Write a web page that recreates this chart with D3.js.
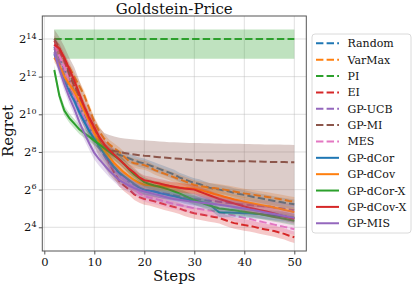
<!DOCTYPE html>
<html>
<head>
<meta charset="utf-8">
<script src="https://cdnjs.cloudflare.com/ajax/libs/d3/7.8.5/d3.min.js"></script>
<style>
  body { margin: 0; background: #fff; }
  svg { display: block; font-family: "DejaVu Serif", serif; }
</style>
</head>
<body>
<svg id="chart" width="416" height="286"></svg>
<script>
// all values are log2(regret), steps 2..50
var steps = d3.range(2, 51);

var random = [13.6,13.0,12.4,11.8,11.2,10.5,9.9,9.3,8.8,8.5,8.3,8.1,7.95,7.85,7.75,7.65,7.55,7.45,7.4,7.3,7.2,7.1,7.0,6.9,6.8,6.65,6.55,6.45,6.35,6.3,6.2,6.1,6.05,6.0,5.95,5.9,5.82,5.77,5.72,5.66,5.6,5.55,5.5,5.45,5.4,5.35,5.3,5.26,5.22];
var varmax = [13.3,13.2,12.9,12.5,12.0,11.5,11.0,10.3,9.6,9.1,8.7,8.4,8.2,8.0,7.75,7.5,7.4,7.35,7.3,7.2,7.05,6.95,6.85,6.75,6.65,6.55,6.45,6.35,6.25,6.2,6.15,6.1,6.08,6.05,6.0,5.95,5.9,5.85,5.8,5.76,5.72,5.68,5.64,5.6,5.55,5.5,5.45,5.4,5.36];
var pi = [14,14,14,14,14,14,14,14,14,14,14,14,14,14,14,14,14,14,14,14,14,14,14,14,14,14,14,14,14,14,14,14,14,14,14,14,14,14,14,14,14,14,14,14,14,14,14,14,14];
var piUpper = [14.5,14.5,14.5,14.5,14.5,14.5,14.5,14.5,14.5,14.5,14.5,14.5,14.5,14.5,14.5,14.5,14.5,14.5,14.5,14.5,14.5,14.5,14.5,14.5,14.5,14.5,14.5,14.5,14.5,14.5,14.5,14.5,14.5,14.5,14.5,14.5,14.5,14.5,14.5,14.5,14.5,14.5,14.5,14.5,14.5,14.5,14.5,14.5,14.5];
var piLower = [12.95,12.95,12.95,12.95,12.95,12.95,12.95,12.95,12.95,12.95,12.95,12.95,12.95,12.95,12.95,12.95,12.95,12.95,12.95,12.95,12.95,12.95,12.95,12.95,12.95,12.95,12.95,12.95,12.95,12.95,12.95,12.95,12.95,12.95,12.95,12.95,12.95,12.95,12.95,12.95,12.95,12.95,12.95,12.95,12.95,12.95,12.95,12.95,12.95];
var ei = [13.9,13.4,12.8,12.1,11.5,10.9,10.4,9.8,9.3,8.6,8.0,7.4,6.9,6.45,6.2,6.0,5.75,5.6,5.5,5.45,5.38,5.3,5.22,5.15,5.08,5.0,4.9,4.82,4.75,4.7,4.65,4.6,4.55,4.5,4.4,4.3,4.22,4.17,4.12,4.08,4.02,3.95,3.9,3.85,3.8,3.72,3.65,3.55,3.47];
var gpucb = [13.5,12.8,12.1,11.4,10.8,10.2,9.6,9.1,8.6,8.2,7.8,7.4,7.1,6.85,6.6,6.4,6.25,6.1,6.0,5.95,5.9,5.85,5.8,5.75,5.7,5.65,5.6,5.55,5.5,5.47,5.44,5.41,5.38,5.35,5.32,5.29,5.26,5.23,5.2,5.18,5.16,5.14,5.12,5.1,5.06,5.02,4.98,4.94,4.9];
var gpmi = [14.0,13.5,12.9,12.2,11.6,10.9,10.3,9.7,9.2,8.7,8.3,8.1,8.05,8.0,7.95,7.9,7.87,7.83,7.8,7.78,7.75,7.72,7.7,7.68,7.66,7.64,7.61,7.59,7.57,7.56,7.55,7.54,7.53,7.52,7.52,7.51,7.51,7.5,7.5,7.5,7.49,7.49,7.48,7.47,7.47,7.46,7.46,7.45,7.45];
var gpmiUpper = [14.5,14.1,13.6,13.0,12.5,11.8,11.1,10.4,9.8,9.3,9.0,8.9,8.82,8.76,8.72,8.69,8.66,8.64,8.62,8.6,8.58,8.56,8.54,8.52,8.51,8.5,8.49,8.48,8.47,8.47,8.46,8.46,8.45,8.45,8.44,8.44,8.43,8.43,8.42,8.42,8.41,8.41,8.4,8.4,8.39,8.39,8.38,8.38,8.37];
var gpmiLower = [13.3,12.7,12.0,11.3,10.6,9.9,9.3,8.8,8.3,7.7,7.2,6.8,6.5,6.3,6.15,6.0,5.9,5.8,5.7,5.65,5.6,5.55,5.5,5.47,5.44,5.41,5.38,5.35,5.32,5.3,5.28,5.26,5.24,5.22,5.2,5.18,5.16,5.14,5.12,5.1,5.08,5.06,5.04,5.02,5.0,4.98,4.96,4.94,4.92];
var mes = [13.7,13.1,12.5,11.7,11.0,10.4,9.8,9.3,8.8,8.4,8.0,7.6,7.25,6.9,6.6,6.3,6.05,5.8,5.65,5.58,5.52,5.45,5.38,5.3,5.24,5.18,5.12,5.06,5.0,4.97,4.93,4.89,4.85,4.8,4.74,4.68,4.62,4.56,4.5,4.45,4.38,4.32,4.26,4.2,4.14,4.08,4.02,3.96,3.9];
var dcor = [13.2,12.5,11.8,11.2,10.7,10.1,9.6,9.1,8.7,8.3,7.9,7.55,7.2,6.9,6.7,6.5,6.3,6.12,6.0,5.95,5.9,5.82,5.76,5.7,5.65,5.58,5.5,5.45,5.4,5.35,5.3,5.25,5.0,4.8,4.78,4.78,4.77,4.76,4.75,4.74,4.72,4.7,4.68,4.65,4.62,4.6,4.57,4.53,4.5];
var dcov = [13.0,12.6,12.0,11.6,11.2,10.7,10.2,9.6,9.0,8.5,8.1,7.75,7.4,7.15,6.9,6.7,6.5,6.35,6.25,6.23,6.21,6.19,6.17,6.15,6.13,6.11,6.09,6.07,6.05,6.0,5.92,5.85,5.77,5.7,5.62,5.55,5.48,5.42,5.36,5.3,5.25,5.2,5.15,5.1,5.04,4.98,4.92,4.86,4.8];
var dcorX = [12.35,11.0,10.2,9.8,9.5,9.2,9.0,8.8,8.6,8.4,8.2,8.0,7.8,7.6,7.35,7.05,6.8,6.6,6.4,6.3,6.22,6.15,6.08,6.0,5.9,5.8,5.68,5.56,5.45,5.35,5.25,5.15,5.08,5.0,4.97,4.93,4.9,4.86,4.83,4.79,4.75,4.7,4.65,4.6,4.55,4.5,4.45,4.4,4.35];
var dcovX = [13.7,13.5,13.0,12.4,11.8,11.1,10.4,9.8,9.3,8.8,8.4,8.1,7.85,7.6,7.35,7.1,6.9,6.65,6.5,6.45,6.38,6.32,6.26,6.2,6.15,6.1,6.06,6.03,6.0,5.9,5.8,5.7,5.6,5.5,5.42,5.34,5.26,5.18,5.1,5.04,4.98,4.92,4.86,4.8,4.73,4.66,4.59,4.52,4.45];
var mis = [13.3,12.4,11.6,10.9,10.3,9.6,9.0,8.45,7.95,7.6,7.3,7.0,6.75,6.5,6.35,6.2,6.08,5.98,5.9,5.83,5.76,5.7,5.62,5.55,5.5,5.46,5.42,5.38,5.35,5.32,5.29,5.26,5.23,5.2,5.16,5.12,5.08,5.04,5.0,4.95,4.9,4.85,4.8,4.75,4.7,4.65,4.6,4.55,4.5];

var names = ["Random", "VarMax", "PI", "EI", "GP-UCB", "GP-MI", "MES", "GP-dCor", "GP-dCov", "GP-dCor-X", "GP-dCov-X", "GP-MIS"];
var means = [random, varmax, pi, ei, gpucb, gpmi, mes, dcor, dcov, dcorX, dcovX, mis];
// half width of the shaded band in log2 units (only where no explicit band)
var spread = [0.25, 0.25, 0, 0.3, 0.3, 0, 0.3, 0.25, 0.25, 0.25, 0.25, 0.35];
var colors = ["#1f77b4", "#ff7f0e", "#2ca02c", "#d62728", "#9467bd", "#8c564b", "#e377c2", "#1f77b4", "#ff7f0e", "#2ca02c", "#d62728", "#9467bd"];
var dashed = [true, true, true, true, true, true, true, false, false, false, false, false];
var xTicks = [0, 10, 20, 30, 40, 50];
var yTickExp = [4, 6, 8, 10, 12, 14];

var svg = d3.select("#chart");
// plot box (don't call it "top": window.top is read-only)
var pL = 42.3, pR = 306.3, pT = 16, pB = 251;

var x = d3.scaleLinear().domain([-0.4, 52.4]).range([pL, pR]);
var y = d3.scaleLog().base(2).domain([Math.pow(2, 2.74), Math.pow(2, 15.22)]).range([pB, pT]);

svg.append("defs").append("clipPath").attr("id", "plotclip")
  .append("rect").attr("x", pL).attr("y", pT).attr("width", pR - pL).attr("height", pB - pT);

// grid
var grid = svg.append("g");
xTicks.forEach(function(t) {
  grid.append("line").attr("x1", x(t)).attr("x2", x(t)).attr("y1", pT).attr("y2", pB)
    .attr("stroke", "#b0b0b0").attr("stroke-opacity", 0.5).attr("stroke-width", 0.8);
});
yTickExp.forEach(function(e) {
  grid.append("line").attr("x1", pL).attr("x2", pR).attr("y1", y(Math.pow(2, e))).attr("y2", y(Math.pow(2, e)))
    .attr("stroke", "#b0b0b0").attr("stroke-opacity", 0.5).attr("stroke-width", 0.8);
});

var plot = svg.append("g").attr("clip-path", "url(#plotclip)");

var line = d3.line()
  .x(function(d, i) { return x(steps[i]); })
  .y(function(d) { return y(Math.pow(2, d)); });

var area = d3.area()
  .x(function(d) { return x(d.s); })
  .y0(function(d) { return y(Math.pow(2, d.lo)); })
  .y1(function(d) { return y(Math.pow(2, d.hi)); });

means.forEach(function(m, k) {
  var band;
  if (names[k] == "PI") {
    band = steps.map(function(s, i) { return {s: s, lo: piLower[i], hi: piUpper[i]}; });
  } else if (names[k] == "GP-MI") {
    band = steps.map(function(s, i) { return {s: s, lo: gpmiLower[i], hi: gpmiUpper[i]}; });
  } else {
    band = steps.map(function(s, i) { return {s: s, lo: m[i] - spread[k], hi: m[i] + spread[k]}; });
  }
  plot.append("path").datum(band)
    .attr("d", area)
    .attr("fill", colors[k])
    .attr("fill-opacity", names[k] == "PI" || names[k] == "GP-MI" ? 0.3 : 0.25);

  plot.append("path").datum(m)
    .attr("d", line)
    .attr("fill", "none")
    .attr("stroke", colors[k])
    .attr("stroke-width", 2)
    .attr("stroke-dasharray", dashed[k] ? "7.4,3.2" : null);
});

// frame
svg.append("rect").attr("x", pL).attr("y", pT).attr("width", pR - pL).attr("height", pB - pT)
  .attr("fill", "none").attr("stroke", "#555").attr("stroke-width", 1);

// x axis
var xAxis = d3.axisBottom(x).tickValues(xTicks).tickSize(3.5).tickPadding(3.5).tickFormat(d3.format("d"));
var gx = svg.append("g").attr("transform", "translate(0," + pB + ")").call(xAxis);
gx.select(".domain").remove();
gx.selectAll("line").attr("stroke", "#555");
gx.selectAll("text").attr("font-family", "DejaVu Serif").attr("font-size", 11.5).attr("fill", "#111");

// y axis, labels as 2^n
var yAxis = d3.axisLeft(y).tickValues(yTickExp.map(function(e) { return Math.pow(2, e); })).tickSize(3.5).tickFormat("");
var gy = svg.append("g").attr("transform", "translate(" + pL + ",0)").call(yAxis);
gy.select(".domain").remove();
gy.selectAll("line").attr("stroke", "#555");

yTickExp.forEach(function(e) {
  var t = svg.append("text")
    .attr("x", 36.5)
    .attr("y", y(Math.pow(2, e)) + 4.2)
    .attr("text-anchor", "end")
    .attr("font-size", 11.5)
    .attr("fill", "#111");
  t.append("tspan").text("2");
  t.append("tspan").attr("font-size", 8).attr("dy", -4.6).text(e);
});

// title and labels
svg.append("text").attr("x", (pL + pR) / 2).attr("y", 13.5).attr("text-anchor", "middle")
  .attr("font-size", 15).attr("fill", "#111").text("Goldstein-Price");
svg.append("text").attr("x", (pL + pR) / 2).attr("y", 281).attr("text-anchor", "middle")
  .attr("font-size", 15).attr("fill", "#111").text("Steps");
svg.append("text").attr("transform", "translate(13,131) rotate(-90)").attr("text-anchor", "middle")
  .attr("font-size", 15).attr("fill", "#111").text("Regret");

// legend
var lg = svg.append("g");
lg.append("rect").attr("x", 312).attr("y", 34).attr("width", 99).attr("height", 199).attr("rx", 3)
  .attr("fill", "#fff").attr("fill-opacity", 0.8).attr("stroke", "#d0d0d0").attr("stroke-width", 0.8);
names.forEach(function(n, k) {
  var ly = 43.3 + k * 16.36;
  lg.append("line").attr("x1", 316).attr("x2", 339).attr("y1", ly).attr("y2", ly)
    .attr("stroke", colors[k]).attr("stroke-width", 2)
    .attr("stroke-dasharray", dashed[k] ? "7.4,3.2" : null);
  lg.append("text").attr("x", 347.5).attr("y", ly + 4).attr("font-size", 11).attr("fill", "#111").text(n);
});
</script>
</body>
</html>
